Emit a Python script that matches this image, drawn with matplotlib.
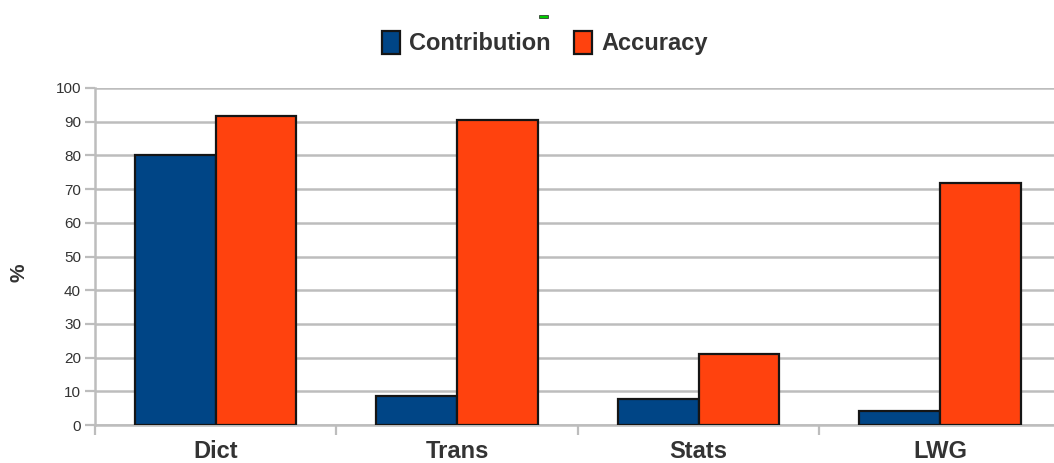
import numpy as np
import matplotlib
matplotlib.use("Agg")
import matplotlib.pyplot as plt
from matplotlib.patches import Rectangle

plt.rcParams['font.family'] = ['Liberation Sans', 'DejaVu Sans']

# data
categories = ['Dict', 'Trans', 'Stats', 'LWG']
contribution = [80, 8.7, 7.6, 4.2]
accuracy = [91.7, 90.6, 21, 71.8]
yticks = list(range(0, 101, 10))

blue = '#004586'
orange = '#ff420e'
grid_col = '#bdbdbd'
text_col = '#333333'

fig = plt.figure(figsize=(10.54, 4.63), dpi=100)
# the source chart is cut off at the right edge, so the axes run past the figure
ax = fig.add_axes([0.090, 0.082, 0.9165, 0.728])

x = np.arange(len(categories))
w = 0.334
ax.bar(x - w / 2, contribution, w, color=blue, edgecolor='#151515', linewidth=1.6,
       label='Contribution', zorder=3)
ax.bar(x + w / 2, accuracy, w, color=orange, edgecolor='#151515', linewidth=1.6,
       label='Accuracy', zorder=3)

ax.set_xlim(-0.5, len(categories) - 0.5)
ax.set_ylim(0, 100)
ax.set_yticks(yticks)
ax.set_yticklabels([str(t) for t in yticks], fontsize=11, color=text_col)
ax.set_xticks(x)
ax.set_xticklabels(categories, fontsize=17, fontweight='bold', color=text_col)
ax.tick_params(axis='x', which='major', length=0, pad=11)
ax.set_xticks(np.arange(-0.5, len(categories)), minor=True)
ax.tick_params(axis='x', which='minor', length=7, width=1.6, color=grid_col)
ax.tick_params(axis='y', length=7, width=1.6, color=grid_col, pad=3)

ax.yaxis.grid(True, color=grid_col, linewidth=1.8, zorder=0)
ax.set_axisbelow(True)
for s in ['top', 'right']:
    ax.spines[s].set_visible(False)
for s in ['left', 'bottom']:
    ax.spines[s].set_color(grid_col)
    ax.spines[s].set_linewidth(1.8)

fig.text(0.018, 0.41, '%', rotation=90, fontsize=15, fontweight='bold',
         color=text_col, ha='center', va='center')

leg = fig.legend(loc='center', bbox_to_anchor=(0.517, 0.907), ncol=2, frameon=False,
                 prop={'size': 17, 'weight': 'bold'}, handlelength=0.75,
                 handleheight=1.15, handletextpad=0.4, columnspacing=1.0)
for t in leg.get_texts():
    t.set_color(text_col)
for p in leg.get_patches():
    p.set_edgecolor('#151515')
    p.set_linewidth(1.6)

# small green mark above the legend
fig.patches.append(Rectangle((0.511, 0.962), 0.009, 0.006, transform=fig.transFigure,
                             facecolor='#00cc00', edgecolor='#222222', linewidth=0.5))

fig.savefig('out.png', dpi=100)
